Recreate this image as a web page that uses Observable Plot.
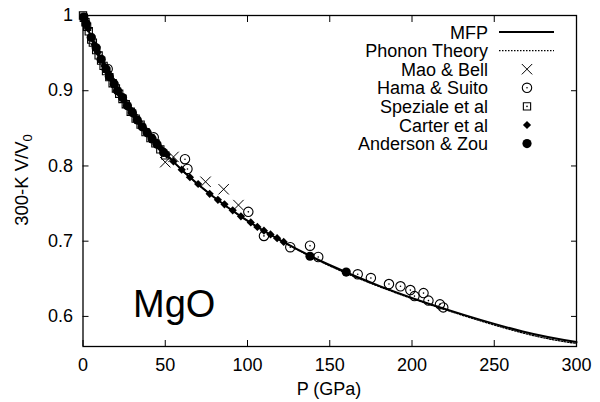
<!DOCTYPE html>
<html><head><meta charset="utf-8">
<script src="https://cdn.jsdelivr.net/npm/d3@7"></script>
<script src="https://cdn.jsdelivr.net/npm/@observablehq/plot@0.6"></script>
<style>body{margin:0;background:#fff}#chart{width:600px;height:402px}</style>
</head><body><div id="chart"></div>
<script>
// MFP curve (P in GPa, 300-K V/V0)
const mfpP = [0, 5.21, 11.33, 18.53, 26.98, 36.91, 48.61, 62.4, 78.7, 97.98, 120.9, 148.2, 180.8, 220, 267.3, 300];
const mfpV = [1, 0.97, 0.94, 0.91, 0.88, 0.85, 0.82, 0.79, 0.76, 0.73, 0.70, 0.67, 0.64, 0.61, 0.58, 0.566];
// Phonon theory curve
const phonP = [0, 5.21, 11.33, 18.53, 26.98, 36.91, 48.61, 62.4, 78.7, 97.98, 120.9, 148.2, 180.8, 220, 267.3, 300];
const phonV = [1, 0.97, 0.94, 0.91, 0.88, 0.85, 0.82, 0.79, 0.76, 0.73, 0.70, 0.669, 0.639, 0.609, 0.578, 0.564];
// Mao & Bell
const maoP = [50, 55, 74.5, 85.5, 94.5];
const maoV = [0.805, 0.812, 0.779, 0.769, 0.748];
// Hama & Suito
const hamaP = [15, 43, 62, 63.5, 100.5, 110, 126, 138, 143, 167, 175, 186, 193, 199, 201.5, 207, 210, 217, 219];
const hamaV = [0.929, 0.838, 0.809, 0.796, 0.739, 0.707, 0.692, 0.694, 0.679, 0.656, 0.651, 0.643, 0.640, 0.635, 0.627, 0.631, 0.621, 0.616, 0.612];
// Speziale et al
const spezP = [0, 0.5, 1.5, 2.5, 3.5, 5, 6, 8, 9.5, 11, 12.5, 14, 16, 18, 20, 22, 24, 26, 29, 32, 35, 38, 41, 44, 47, 50];
const spezV = [1.0, 0.997, 0.991, 0.985, 0.979, 0.968, 0.964, 0.954, 0.947, 0.940, 0.933, 0.926, 0.918, 0.910, 0.903, 0.896, 0.889, 0.882, 0.872, 0.863, 0.855, 0.845, 0.837, 0.830, 0.822, 0.814];
// Carter et al
const cartP = [1, 3, 5, 7, 9, 11, 13, 15, 17, 19, 21, 23, 25, 28, 31, 34, 37, 40, 43, 47, 51, 55, 60, 65, 70, 77, 82, 86, 91, 96, 102, 106, 110, 114, 118, 122];
const cartV = [0.994, 0.983, 0.971, 0.961, 0.951, 0.942, 0.933, 0.925, 0.916, 0.908, 0.901, 0.894, 0.887, 0.877, 0.868, 0.859, 0.850, 0.842, 0.834, 0.824, 0.815, 0.806, 0.795, 0.785, 0.776, 0.763, 0.755, 0.749, 0.741, 0.733, 0.725, 0.719, 0.714, 0.709, 0.704, 0.699];
// Anderson & Zou
const andP = [0.5, 2, 5, 8, 11, 14, 16, 19, 21, 24, 27, 30, 33, 36, 39, 42, 45, 49, 138, 160];
const andV = [0.998, 0.989, 0.971, 0.957, 0.942, 0.929, 0.919, 0.909, 0.900, 0.891, 0.880, 0.871, 0.861, 0.852, 0.844, 0.836, 0.829, 0.818, 0.680, 0.659];

const xTicks = [0, 50, 100, 150, 200, 250, 300];
const yTicks = [0.6, 0.7, 0.8, 0.9, 1.0];
const legendLabels = ["MFP", "Phonon Theory", "Mao & Bell", "Hama & Suito", "Speziale et al", "Carter et al", "Anderson & Zou"];

const zip = (P, V) => P.map((p, i) => ({p, v: V[i]}));
const mfp = zip(mfpP, mfpV), phon = zip(phonP, phonV), mao = zip(maoP, maoV),
      hama = zip(hamaP, hamaV), spez = zip(spezP, spezV), cart = zip(cartP, cartV), and = zip(andP, andV);

const FONT = "'Liberation Sans', Arial, Helvetica, sans-serif";
const fs = 18;

const plot = Plot.plot({
  width: 600, height: 402,
  marginLeft: 82.5, marginRight: 24, marginTop: 15, marginBottom: 56,
  style: {fontFamily: FONT, fontSize: fs + "px", background: "#fff", color: "#000"},
  x: {domain: [0, 300]},
  y: {domain: [0.56, 1.0]},
  marks: [
    Plot.axisX({anchor: "bottom", ticks: xTicks, tickSize: -6, tickPadding: 18, fontSize: fs, label: null}),
    Plot.axisX({anchor: "top", ticks: xTicks, tickSize: -6, tickFormat: () => "", label: null}),
    Plot.axisY({anchor: "left", ticks: yTicks, tickSize: -6, tickPadding: 16, fontSize: fs, label: null,
      tickFormat: d => d === 1 ? "1" : d.toFixed(1)}),
    Plot.axisY({anchor: "right", ticks: yTicks, tickSize: -6, tickFormat: () => "", label: null}),
    Plot.line(phon, {x: "p", y: "v", curve: "natural", stroke: "black", strokeWidth: 1.3, strokeDasharray: "1.5,1.5"}),
    Plot.line(mfp, {x: "p", y: "v", curve: "natural", stroke: "black", strokeWidth: 2}),
    Plot.dot(mao, {x: "p", y: "v", symbol: "times", r: 4.8, stroke: "black", strokeWidth: 1}),
    Plot.dot(hama, {x: "p", y: "v", r: 4.7, stroke: "black", fill: "none", strokeWidth: 1.1}),
    Plot.dot(hama, {x: "p", y: "v", r: 0.8, fill: "black", stroke: "none"}),
    Plot.dot(spez, {x: "p", y: "v", symbol: "square", r: 4.1, stroke: "black", fill: "none", strokeWidth: 1.1}),
    Plot.dot(spez, {x: "p", y: "v", r: 0.8, fill: "black", stroke: "none"}),
    Plot.dot(cart, {x: "p", y: "v", symbol: "diamond2", r: 3.7, fill: "black", stroke: "none"}),
    Plot.dot(and, {x: "p", y: "v", r: 4.6, fill: "black", stroke: "none"}),
    Plot.frame({stroke: "black", strokeWidth: 1.3})
  ]
});
document.getElementById("chart").appendChild(plot);

// Annotations and legend
const svg = d3.select(plot);
svg.append("text").attr("x", 329).attr("y", 395).attr("text-anchor", "middle")
  .attr("font-family", FONT).attr("font-size", fs).attr("fill", "black").text("P (GPa)");
const yl = svg.append("text").attr("transform", "translate(28,180) rotate(-90)").attr("text-anchor", "middle")
  .attr("font-family", FONT).attr("font-size", 18.5).attr("fill", "black");
yl.append("tspan").text("300-K V/V");
yl.append("tspan").attr("font-size", 13).attr("dy", 4).text("0");
svg.append("text").attr("x", 133).attr("y", 317).attr("text-anchor", "start").attr("font-family", FONT).attr("font-size", 38)
  .attr("fill", "black").text("MgO");

const lg = svg.append("g").attr("font-family", FONT).attr("font-size", fs).attr("fill", "black");
const rowY = i => 32 + i * 18.6;
legendLabels.forEach((t, i) => {
  lg.append("text").attr("x", 488).attr("y", rowY(i) + 6.5).attr("text-anchor", "end").text(t);
});
lg.append("line").attr("x1", 499).attr("x2", 554).attr("y1", rowY(0)).attr("y2", rowY(0)).attr("stroke", "black").attr("stroke-width", 2);
lg.append("line").attr("x1", 499).attr("x2", 554).attr("y1", rowY(1)).attr("y2", rowY(1)).attr("stroke", "black").attr("stroke-width", 1.3).attr("stroke-dasharray", "1.5,1.5");
const sym = (type, r) => d3.symbol(type, Math.PI * r * r)();
const sx = 527;
lg.append("path").attr("d", sym(d3.symbolTimes, 4.8)).attr("transform", `translate(${sx},${rowY(2)})`).attr("fill", "none").attr("stroke", "black").attr("stroke-width", 1);
lg.append("circle").attr("cx", sx).attr("cy", rowY(3)).attr("r", 4.7).attr("fill", "none").attr("stroke", "black").attr("stroke-width", 1.1);
lg.append("circle").attr("cx", sx).attr("cy", rowY(3)).attr("r", 0.8).attr("fill", "black");
lg.append("path").attr("d", sym(d3.symbolSquare, 4.1)).attr("transform", `translate(${sx},${rowY(4)})`).attr("fill", "none").attr("stroke", "black").attr("stroke-width", 1.1);
lg.append("circle").attr("cx", sx).attr("cy", rowY(4)).attr("r", 0.8).attr("fill", "black");
lg.append("path").attr("d", sym(d3.symbolDiamond2, 3.7)).attr("transform", `translate(${sx},${rowY(5)})`).attr("fill", "black");
lg.append("circle").attr("cx", sx).attr("cy", rowY(6)).attr("r", 4.6).attr("fill", "black");
</script>
</body></html>
